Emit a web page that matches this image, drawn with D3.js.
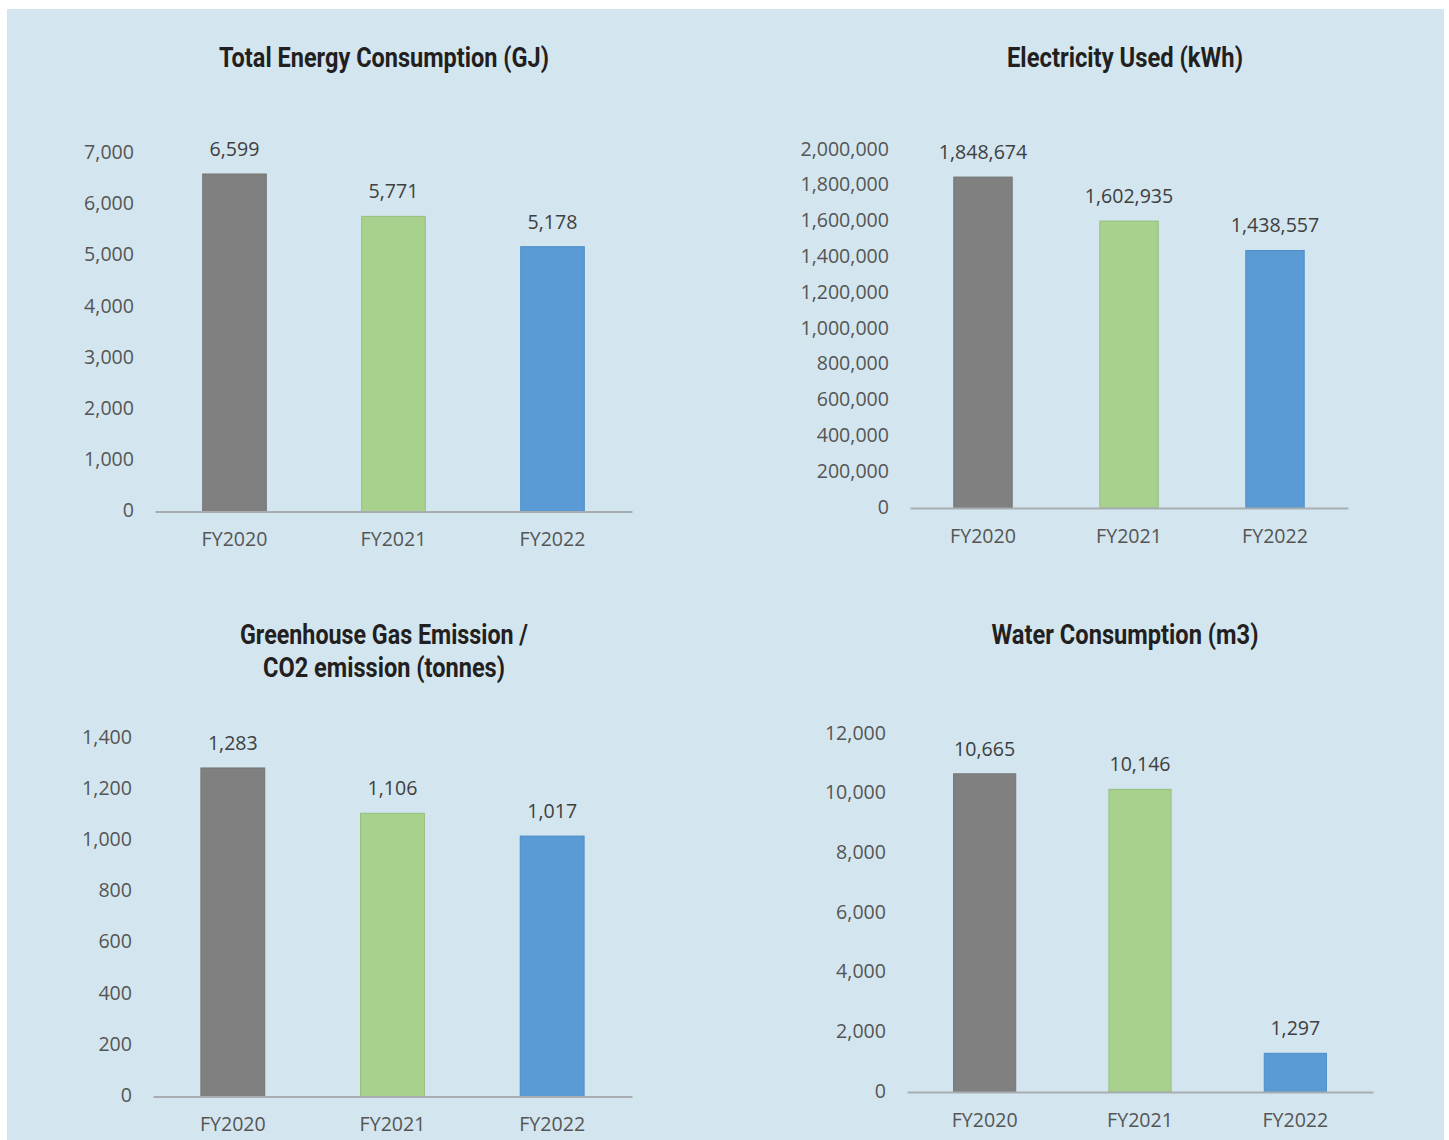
<!DOCTYPE html>
<html>
<head>
<meta charset="utf-8">
<script src="https://cdn.jsdelivr.net/npm/d3@7"></script>
<style>
  html, body { margin: 0; padding: 0; background: #ffffff; }
  svg { display: block; }
</style>
</head>
<body>
<svg id="chart" width="1449" height="1140"></svg>
<script>
// ---------- data ----------
const categories = ["FY2020", "FY2021", "FY2022"];

const energyValues = [6599, 5771, 5178];
const electricityValues = [1848674, 1602935, 1438557];
const ghgValues = [1283, 1106, 1017];
const waterValues = [10665, 10146, 1297];

const energyTicks = [0, 1000, 2000, 3000, 4000, 5000, 6000, 7000];
const electricityTicks = [0, 200000, 400000, 600000, 800000, 1000000, 1200000, 1400000, 1600000, 1800000, 2000000];
const ghgTicks = [0, 200, 400, 600, 800, 1000, 1200, 1400];
const waterTicks = [0, 2000, 4000, 6000, 8000, 10000, 12000];

const energyTitle = ["Total Energy Consumption (GJ)"];
const electricityTitle = ["Electricity Used (kWh)"];
const ghgTitle = ["Greenhouse Gas Emission /", "CO2 emission (tonnes)"];
const waterTitle = ["Water Consumption (m3)"];

// ---------- styling ----------
const barFill = ["#808080", "#a9d18e", "#5b9bd5"];
const barStroke = ["#747474", "#96bd7d", "#4d8cc6"];
const fmt = d3.format(",");

const svg = d3.select("#chart");
svg.append("rect").attr("x", 7).attr("y", 9).attr("width", 1437).attr("height", 1131).attr("fill", "#d3e6ef");

// layout per panel
const panels = [
  { values: energyValues, ticks: energyTicks, title: energyTitle, titleWidths: [330],
    x0: 155, x1: 632, yBase: 511.5, yTop: 153.5, titleX: 384, titleY: 66.5 },
  { values: electricityValues, ticks: electricityTicks, title: electricityTitle, titleWidths: [236],
    x0: 910, x1: 1348, yBase: 508, yTop: 150, titleX: 1125, titleY: 66.5 },
  { values: ghgValues, ticks: ghgTicks, title: ghgTitle, titleWidths: [288, 242],
    x0: 153, x1: 632, yBase: 1096.5, yTop: 738, titleX: 384, titleY: 643.5 },
  { values: waterValues, ticks: waterTicks, title: waterTitle, titleWidths: [267],
    x0: 907, x1: 1373, yBase: 1092, yTop: 734, titleX: 1125, titleY: 643.5 }
];

const tickFont = "'Open Sans', 'DejaVu Sans', sans-serif";

panels.forEach(p => {
  const g = svg.append("g");
  const x = d3.scaleBand().domain(categories).range([p.x0, p.x1]).padding(0);
  const maxTick = d3.max(p.ticks);
  const y = d3.scaleLinear().domain([0, maxTick]).range([p.yBase, p.yTop]);
  const bw = x.bandwidth() * 0.4;

  // title
  p.title.forEach((t, i) => {
    g.append("text")
      .attr("x", p.titleX).attr("y", p.titleY + i * 33)
      .attr("text-anchor", "middle")
      .attr("font-family", "Roboto, 'Noto Sans', sans-serif")
      .attr("font-weight", 700)
      .attr("font-size", 27)
      .attr("fill", "#231f20")
      .attr("textLength", p.titleWidths[i])
      .attr("lengthAdjust", "spacingAndGlyphs")
      .text(t);
  });

  // y axis labels
  const yAxis = d3.axisLeft(y).tickValues(p.ticks).tickFormat(fmt).tickSize(0).tickPadding(21);
  const ya = g.append("g").attr("transform", `translate(${p.x0},0)`).call(yAxis);
  ya.select(".domain").remove();
  ya.selectAll("text")
    .attr("font-family", tickFont).attr("font-size", 19.6).attr("fill", "#555555").attr("dy", "0.26em");

  // bars
  g.selectAll("rect.bar").data(p.values).join("rect")
    .attr("class", "bar")
    .attr("x", (d, i) => x(categories[i]) + x.bandwidth() / 2 - bw / 2)
    .attr("width", bw)
    .attr("y", d => y(d))
    .attr("height", d => y(0) - y(d))
    .attr("fill", (d, i) => barFill[i])
    .attr("stroke", (d, i) => barStroke[i])
    .attr("stroke-width", 1);

  // value labels
  g.selectAll("text.val").data(p.values).join("text")
    .attr("class", "val")
    .attr("x", (d, i) => x(categories[i]) + x.bandwidth() / 2)
    .attr("y", d => y(d) - 18)
    .attr("text-anchor", "middle")
    .attr("font-family", tickFont).attr("font-size", 19.6).attr("fill", "#404040")
    .text(d => fmt(d));

  // x axis
  const xAxis = d3.axisBottom(x).tickSize(0).tickSizeOuter(0).tickPadding(21);
  const xa = g.append("g").attr("transform", `translate(0,${p.yBase})`).call(xAxis);
  xa.select(".domain").attr("stroke", "#a7adb1").attr("stroke-width", 2);
  xa.selectAll("text")
    .attr("font-family", tickFont).attr("font-size", 19.6).attr("fill", "#555555");
});
</script>
</body>
</html>
